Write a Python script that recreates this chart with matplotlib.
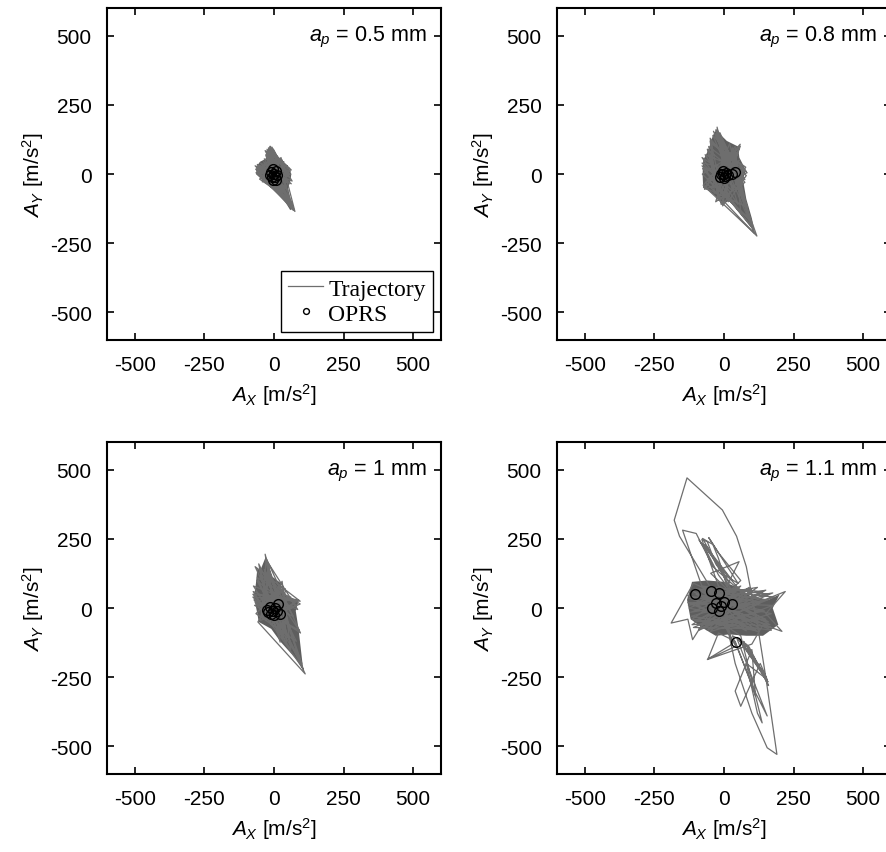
import numpy as np
import matplotlib
matplotlib.use("Agg")
import matplotlib.pyplot as plt

plt.rcParams['font.family'] = ['Liberation Sans', 'DejaVu Sans']
plt.rcParams['mathtext.fontset'] = 'custom'
plt.rcParams['mathtext.rm'] = 'Liberation Sans'
plt.rcParams['mathtext.it'] = 'Liberation Sans:italic'
plt.rcParams['axes.unicode_minus'] = False

depths = ['0.5', '0.8', '1', '1.1']
ticks = [-500, -250, 0, 250, 500]

# trajectory vertices (A_X, A_Y) per depth of cut
traj_05 = [(0, 0), (-14, 101), (10, -40), (-60, 20), (55, -10), (-30, 70), (40, -90), (-55, 0), (62, 15),
           (-20, 95), (20, -60), (-68, 30), (65, -25), (-5, 88), (70, -125), (-45, -15), (48, 30), (-35, 55),
           (58, -105), (-62, 10), (35, 45), (-10, -40), (-25, 90), (50, -60), (-50, 40), (60, 0), (-40, -25),
           (25, 60), (75, -135), (-58, 25), (45, -30), (-15, 80), (30, -80), (-65, 5), (55, 20), (-28, 65),
           (65, -115), (-48, -8), (40, 15), (-8, 98), (15, -50), (-60, 35), (62, -35), (-38, 45), (52, -90),
           (-52, -18), (30, 50), (-22, 75), (68, -130), (-66, 18), (50, -5), (-12, 92), (25, -70), (-56, 30),
           (58, 10), (-42, -28), (38, 35), (-32, 85), (60, -100), (-62, 0), (45, -45), (0, 70), (-45, 20),
           (20, -30), (0, 0)]
traj_08 = [(0, 0), (-25, 170), (30, -60), (-79, 40), (80, 10), (-40, 140), (110, -215), (-75, -40), (58, 108),
           (-10, -110), (-60, 90), (75, -20), (-30, 160), (95, -170), (-78, 0), (50, 80), (-20, -90), (-50, 120),
           (83, 5), (-70, -55), (40, 100), (60, -140), (-79, 60), (70, -40), (-15, 150), (118, -224), (-65, -30),
           (55, 50), (-35, -70), (-45, 110), (78, 25), (-5, -115), (30, 95), (100, -190), (-77, 20), (65, -10),
           (-38, 155), (85, -120), (-72, -48), (45, 70), (-25, -60), (-55, 100), (80, -5), (15, -100), (-10, 130),
           (105, -200), (-79, 30), (60, -60), (-28, 145), (50, -110), (-68, 70), (72, 15), (-45, -50), (20, 110),
           (90, -160), (-60, -20), (58, 100), (-5, -80), (-50, 130), (75, -30), (-30, -100), (0, 0)]
traj_10 = [(0, 0), (-32, 195), (40, -80), (-76, 40), (94, 25), (-68, 150), (112, -238), (-58, -50), (29, 97),
           (60, -150), (-75, 60), (85, -5), (-25, 170), (22, -123), (-50, 130), (90, -80), (-70, 10), (60, 40),
           (-40, -40), (-20, 150), (100, -200), (-74, 80), (75, 20), (-10, -60), (-55, 160), (80, -120), (-65, -20),
           (30, 80), (45, -130), (-60, 110), (94, 15), (-50, -45), (-15, 120), (105, -220), (-72, 30), (70, -30),
           (-35, 140), (50, -100), (-76, 50), (88, 30), (-30, -45), (20, 60), (85, -170), (-62, 100), (65, 0),
           (-45, -30), (-28, 180), (95, -90), (-68, 20), (40, 70), (30, -110), (-52, 140), (80, 10), (-20, -30),
           (0, 0)]
traj_11 = [(0, 0), (-110, 60), (170, -70), (-120, -30), (160, 50), (-80, 80), (120, -85), (-130, 20), (175, 10),
           (-60, -80), (90, 75), (-115, -60), (150, -40), (-100, 70), (180, 40), (-90, -75), (60, 80), (-125, 0),
           (165, -60), (-70, 75), (140, 60), (-105, -45), (110, -80), (-130, 45), (170, -20), (-50, -85), (100, 70),
           (-120, -15), (155, 30), (-85, 65), (130, -75), (-110, -70), (175, 55), (-95, 10), (80, -82), (-60, 78),
           (160, -50), (-125, 35), (120, 75), (-75, -60), (145, -10), (-100, 50), (170, -80), (-115, -40), (50, 75),
           (-128, 10), (150, 65), (-90, -80), (130, 20), (-80, 60), (0, 0),
           (-40, 60), (-160, 260), (-179, 318), (-133, 471), (-6, 355), (45, 260), (80, 150), (120, -60),
           (150, -250), (190, -529), (155, -505), (100, -380), (40, -200), (10, -60),
           (-80, 80), (-149, 282), (-100, 270), (-40, 150), (60, 60),
           (-90, 246), (-60, 200), (-20, 120), (40, 40),
           (-77, 252), (-40, 230), (-20, 180), (10, 80),
           (54, 168), (-48, 126), (20, 60),
           (-20, 80), (-80, 249), (-60, 240), (-30, 160), (20, 90), (-60, 220), (-50, 200), (-10, 140), (30, 100),
           (-70, 230), (-40, 180), (0, 120), (50, 90), (-55, 255), (-20, 200), (20, 150), (60, 100), (0, 40),
           (-110, 90), (-190, -54), (-130, -40), (-113, -114), (-60, -30),
           (120, 20), (220, 60), (150, -20), (208, -84), (140, -60), (100, -130),
           (-60, -186), (42, -138), (0, -60),
           (60, -100), (137, -415), (120, -380), (80, -200), (155, -258), (130, -200), (60, -355), (40, -300),
           (100, -150), (113, -318), (90, -250), (30, -100),
           (50, -110), (158, -267), (60, -120), (150, -250), (70, -120), (140, -230), (55, -115), (125, -210),
           (80, -130), (160, -280), (90, -140), (47, -112), (155, -390), (100, -280), (40, -120),
           (-20, -90), (-58, -184), (30, -130), (0, 0)]

# outline of the region the trajectory covers densely
core_05 = [(-14, 101), (0, 90), (15, 60), (35, 35), (55, 20), (62, 0), (58, -30), (50, -50), (62, -100),
           (68, -125), (58, -130), (40, -100), (20, -70), (5, -45), (-15, -38), (-40, -25), (-58, -5), (-65, 25),
           (-50, 45), (-30, 55), (-25, 85)]
core_08 = [(-25, 165), (-10, 140), (10, 120), (50, 100), (55, 60), (78, 15), (68, -20), (80, -90), (100, -160),
           (110, -210), (95, -190), (45, -125), (20, -95), (-5, -110), (-25, -85), (-55, -60), (-75, -50),
           (-77, 0), (-75, 50), (-55, 90), (-40, 140)]
core_10 = [(-30, 185), (-18, 150), (-8, 115), (25, 90), (30, 55), (88, 25), (78, -10), (88, -75), (105, -225),
           (80, -185), (22, -120), (-10, -75), (-55, -50), (-60, -20), (-72, 40), (-65, 90), (-60, 145),
           (-50, 135), (-40, 160)]
core_11 = [(-115, 95), (-60, 100), (0, 95), (55, 72), (100, 40), (160, 30), (200, 50), (175, 0), (195, -60),
           (140, -100), (80, -100), (20, -95), (-30, -100), (-80, -70), (-120, -40), (-133, 30)]

# OPRS points per depth of cut
oprs_05 = [(-12, 8), (-5, 18), (8, 12), (12, -3), (3, -12), (-8, -10), (0, 2), (-15, -3), (6, -20), (-3, -22)]
oprs_08 = [(-12, 0), (-5, 10), (5, -8), (-15, -12), (8, 5), (0, -15), (15, -3), (40, 8), (28, 2), (-3, 2)]
oprs_10 = [(-25, -5), (-15, 5), (-5, -10), (5, 0), (15, 15), (20, -20), (0, -25), (-10, -20), (10, -10), (-20, -15)]
oprs_11 = [(-104, 52), (-48, 63), (-18, 54), (-30, 18), (0, 22), (30, 16), (-44, 0), (-18, -12), (-12, 6), (42, -124)]

trajs = [traj_05, traj_08, traj_10, traj_11]
cores = [core_05, core_08, core_10, core_11]
oprs = [oprs_05, oprs_08, oprs_10, oprs_11]

fig = plt.figure(figsize=(8.86, 8.53), dpi=100)
lefts = [0.1208, 0.6287, 0.1208, 0.6287]
bottoms = [0.6002, 0.6002, 0.0914, 0.0914]

for i in range(4):
    ax = fig.add_axes([lefts[i], bottoms[i], 0.377, 0.389])
    t = np.array(trajs[i])
    c = np.array(cores[i])
    o = np.array(oprs[i])
    ax.fill(c[:, 0], c[:, 1], color='#5e5e5e', lw=0)
    ax.plot(t[:, 0], t[:, 1], color='#6e6e6e', lw=0.9, label='Trajectory')
    ax.plot(o[:, 0], o[:, 1], 'o', mfc='none', mec='black', mew=1.0, ms=7, label='OPRS')
    ax.set_xlim(-600, 600)
    ax.set_ylim(-600, 600)
    ax.set_xticks(ticks)
    ax.set_yticks(ticks)
    ax.tick_params(direction='in', top=True, right=True, length=5, width=1.2, labelsize=15, pad=11)
    for s in ax.spines.values():
        s.set_linewidth(1.5)
    ax.set_xlabel(r'$A_X$ [m/s$^2$]', fontsize=15, labelpad=5)
    ax.set_ylabel(r'$A_Y$ [m/s$^2$]', fontsize=15, labelpad=3)
    ax.text(0.958, 0.916, r'$a_p$ = ' + depths[i] + ' mm', transform=ax.transAxes,
            ha='right', va='center', fontsize=15.5)
    if i == 0:
        leg = ax.legend(loc='lower right', prop={'family': 'Liberation Serif', 'size': 17},
                        fancybox=False, edgecolor='black', framealpha=1, markerscale=0.6,
                        handlelength=1.5, handletextpad=0.2, borderpad=0.3, labelspacing=0.15,
                        borderaxespad=0.35)
        leg.get_frame().set_linewidth(1.0)

fig.savefig('out.png', dpi=100)
